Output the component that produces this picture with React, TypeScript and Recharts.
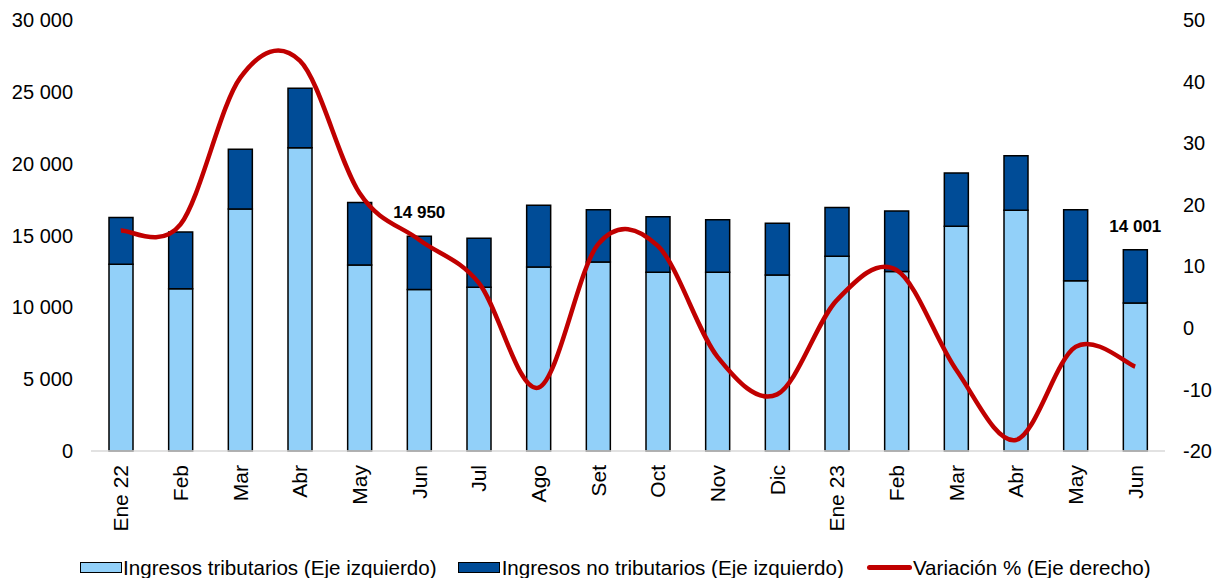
import React from "react";
import {
  ComposedChart,
  Bar,
  Line,
  XAxis,
  YAxis,
  Legend,
  LabelList,
} from "recharts";

const months = [
  "Ene 22", "Feb", "Mar", "Abr", "May", "Jun", "Jul", "Ago", "Set",
  "Oct", "Nov", "Dic", "Ene 23", "Feb", "Mar", "Abr", "May", "Jun",
];
const tributarios = [
  13000, 11300, 16850, 21100, 12950, 11250, 11400, 12800, 13150,
  12450, 12450, 12250, 13550, 12500, 15650, 16750, 11850, 10300,
];
const noTributarios = [
  3250, 3950, 4150, 4150, 4350, 3700, 3400, 4300, 3650,
  3850, 3650, 3600, 3400, 4200, 3700, 3800, 4950, 3701,
];
const variacion = [
  15.8, 16.8, 40.6, 43.4, 21.9, 14.3, 7.3, -9.7, 13.6,
  13.3, -4.7, -10.8, 4.5, 9.4, -6.8, -18.2, -3.1, -6.3,
];
// only these months carry a total label
const labelled = [5, 17];

const leftTicks = [0, 5000, 10000, 15000, 20000, 25000, 30000];
const rightTicks = [-20, -10, 0, 10, 20, 30, 40, 50];

const FONT = "'Liberation Sans', Arial, sans-serif";
const LIGHT = "#92D0F9";
const DARK = "#004C97";
const RED = "#C00000";

const fmt = (v: number) =>
  String(v).replace(/\B(?=(\d{3})+(?!\d))/g, " ");

const data = months.map((m, i) => ({
  month: m,
  trib: tributarios[i],
  noTrib: noTributarios[i],
  vari: variacion[i],
  label: labelled.includes(i) ? fmt(tributarios[i] + noTributarios[i]) : null,
}));

// Excel-like smoothed line (Catmull-Rom through the points)
const excelCurve = (context: any) => {
  let pts: number[][] = [];
  return {
    areaStart() {},
    areaEnd() {},
    lineStart() {
      pts = [];
    },
    point(x: number, y: number) {
      pts.push([+x, +y]);
    },
    lineEnd() {
      if (!pts.length) return;
      context.moveTo(pts[0][0], pts[0][1]);
      for (let i = 0; i < pts.length - 1; i++) {
        const p0 = pts[i - 1] || pts[i];
        const p1 = pts[i];
        const p2 = pts[i + 1];
        const p3 = pts[i + 2] || p2;
        context.bezierCurveTo(
          p1[0] + (p2[0] - p0[0]) / 6,
          p1[1] + (p2[1] - p0[1]) / 6,
          p2[0] - (p3[0] - p1[0]) / 6,
          p2[1] - (p3[1] - p1[1]) / 6,
          p2[0],
          p2[1]
        );
      }
    },
  };
};

const XTick = ({ x, y, payload }: any) => (
  <text
    transform={`translate(${x},${y}) rotate(-90)`}
    textAnchor="end"
    dominantBaseline="central"
    fontSize={21}
    fontFamily={FONT}
    fill="#000"
  >
    {payload.value}
  </text>
);

const TotalLabel = ({ x, y, width, value }: any) => {
  if (value == null) return null;
  return (
    <text
      x={x + width / 2}
      y={y - 18}
      textAnchor="middle"
      fontSize={17}
      fontWeight="bold"
      fontFamily={FONT}
      fill="#000"
    >
      {value}
    </text>
  );
};

const LegendBox = () => (
  <div
    style={{
      display: "flex",
      alignItems: "center",
      paddingLeft: 80,
      fontFamily: FONT,
      fontSize: 20.6,
      color: "#000",
      height: 35,
    }}
  >
    <span style={{ width: 40, height: 9, background: LIGHT, border: "1px solid #000" }} />
    <span style={{ marginLeft: 1 }}>Ingresos tributarios (Eje izquierdo)</span>
    <span style={{ width: 40, height: 9, background: DARK, border: "1px solid #000", marginLeft: 21 }} />
    <span style={{ marginLeft: 2 }}>Ingresos no tributarios (Eje izquierdo)</span>
    <span style={{ width: 45, height: 5, background: RED, borderRadius: 3, marginLeft: 23 }} />
    <span style={{ marginLeft: 1 }}>Variación % (Eje derecho)</span>
  </div>
);

export default function App() {
  return (
    <div style={{ position: "absolute", left: 0, top: 0 }}>
      <ComposedChart
        width={1219}
        height={578}
        data={data}
        margin={{ top: 20, right: 0, left: 0, bottom: 0 }}
      >
        <XAxis
          dataKey="month"
          interval={0}
          tick={<XTick />}
          tickLine={false}
          tickSize={0}
          tickMargin={14}
          height={92}
          axisLine={{ stroke: "#D9D9D9", strokeWidth: 1.5 }}
        />
        <YAxis
          yAxisId="left"
          width={91}
          domain={[0, 30000]}
          ticks={leftTicks}
          tickFormatter={fmt}
          axisLine={false}
          tickLine={false}
          tickSize={0}
          tickMargin={18}
          tick={{ fill: "#000", fontSize: 20, fontFamily: FONT }}
        />
        <YAxis
          yAxisId="right"
          orientation="right"
          width={54}
          domain={[-20, 50]}
          ticks={rightTicks}
          axisLine={false}
          tickLine={false}
          tickSize={0}
          tickMargin={18}
          tick={{ fill: "#000", fontSize: 20, fontFamily: FONT, textAnchor: "start" }}
        />
        <Legend
          verticalAlign="bottom"
          content={<LegendBox />}
          wrapperStyle={{ left: 0, bottom: -7, width: 1219, height: 35 }}
        />
        <Bar
          yAxisId="left"
          dataKey="trib"
          stackId="a"
          fill={LIGHT}
          stroke="#000"
          strokeWidth={1.5}
          barSize={24}
          isAnimationActive={false}
        />
        <Bar
          yAxisId="left"
          dataKey="noTrib"
          stackId="a"
          fill={DARK}
          stroke="#000"
          strokeWidth={1.5}
          barSize={24}
          isAnimationActive={false}
        >
          <LabelList dataKey="label" content={<TotalLabel />} />
        </Bar>
        <Line
          yAxisId="right"
          dataKey="vari"
          type={excelCurve as any}
          stroke={RED}
          strokeWidth={4.5}
          dot={false}
          activeDot={false}
          isAnimationActive={false}
        />
      </ComposedChart>
    </div>
  );
}
